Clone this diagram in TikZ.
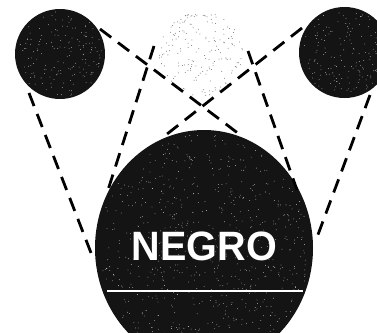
\documentclass[tikz,border=0pt]{standalone}
\usepackage{fontspec}
\setmainfont{Liberation Sans}
\usetikzlibrary{shapes.geometric}
\begin{document}
\begin{tikzpicture}[x=1pt,y=-1pt,
  darkdisc/.style={circle, fill=black!92, inner sep=0pt, outer sep=0pt},
  dashline/.style={line width=2.8pt, dash pattern=on 14pt off 8.5pt},
  speck/.style={fill=black!55},
  whitespeck/.style={fill=white, opacity=0.8},
  label/.style={text=white, font=\bfseries\fontsize{41}{41}\selectfont, inner sep=0pt}]
\useasboundingbox (0,0) rectangle (377,332);
\begin{scope}
  \clip (0,0) rectangle (377,332);
  \node[darkdisc, minimum size=90pt] (L) at (60,54) {};
  \node[darkdisc, minimum size=91pt] (R) at (344.5,52.5) {};
  \node[circle, minimum size=84pt, inner sep=0pt] (S) at (201,54) {};
  \node[ellipse, fill=black!92, minimum width=218pt, minimum height=236pt, inner sep=0pt] (B) at (204,248) {};
  \pgfmathsetseed{12}
  % light speckled disc
  \foreach \i in {1,...,180}{
    \pgfmathsetmacro\ang{rnd*360}
    \pgfmathsetmacro\rad{42*sqrt(rnd)}
    \fill[speck] ([shift={(\ang:\rad pt)}]S.center) circle (0.5pt);
  }
  % white specks in the dark discs
  \foreach \i in {1,...,160}{
    \pgfmathsetmacro\ang{rnd*360}
    \pgfmathsetmacro\rad{43*sqrt(rnd)}
    \fill[whitespeck] ([shift={(\ang:\rad pt)}]L.center) circle (0.4pt);
    \pgfmathsetmacro\angb{rnd*360}
    \pgfmathsetmacro\radb{43*sqrt(rnd)}
    \fill[whitespeck] ([shift={(\angb:\radb pt)}]R.center) circle (0.4pt);
  }
  \foreach \i in {1,...,700}{
    \pgfmathsetmacro\ang{rnd*360}
    \pgfmathsetmacro\rad{sqrt(rnd)}
    \pgfmathsetmacro\dx{105*\rad*cos(\ang)}
    \pgfmathsetmacro\dy{114*\rad*sin(\ang)}
    \fill[whitespeck] ([shift={(\dx pt,\dy pt)}]B.center) circle (0.4pt);
  }
\end{scope}
% white rule and label
\coordinate (W1) at (107,291);
\coordinate (W2) at (303,291);
\draw[white, line width=1.2pt] (W1) -- (W2);
\node[label, anchor=base] (T) at (204.5,260) {\scalebox{0.965}[1]{NEGRO}};
% dashed tangent lines
\coordinate (L1a) at (29,93);   \coordinate (L1b) at (93,258);
\coordinate (L2a) at (100,29);  \coordinate (L2b) at (243,137);
\coordinate (S1a) at (154,46);  \coordinate (S1b) at (108,190);
\coordinate (S2a) at (248,51);  \coordinate (S2b) at (297,190);
\coordinate (R2a) at (302,28);  \coordinate (R2b) at (162,138);
\coordinate (R1a) at (370,95);  \coordinate (R1b) at (316,240);
\draw[dashline] (L1a) -- (L1b);
\draw[dashline] (L2a) -- (L2b);
\draw[dashline] (S1a) -- (S1b);
\draw[dashline] (S2a) -- (S2b);
\draw[dashline] (R2a) -- (R2b);
\draw[dashline] (R1a) -- (R1b);
\end{tikzpicture}
\end{document}
